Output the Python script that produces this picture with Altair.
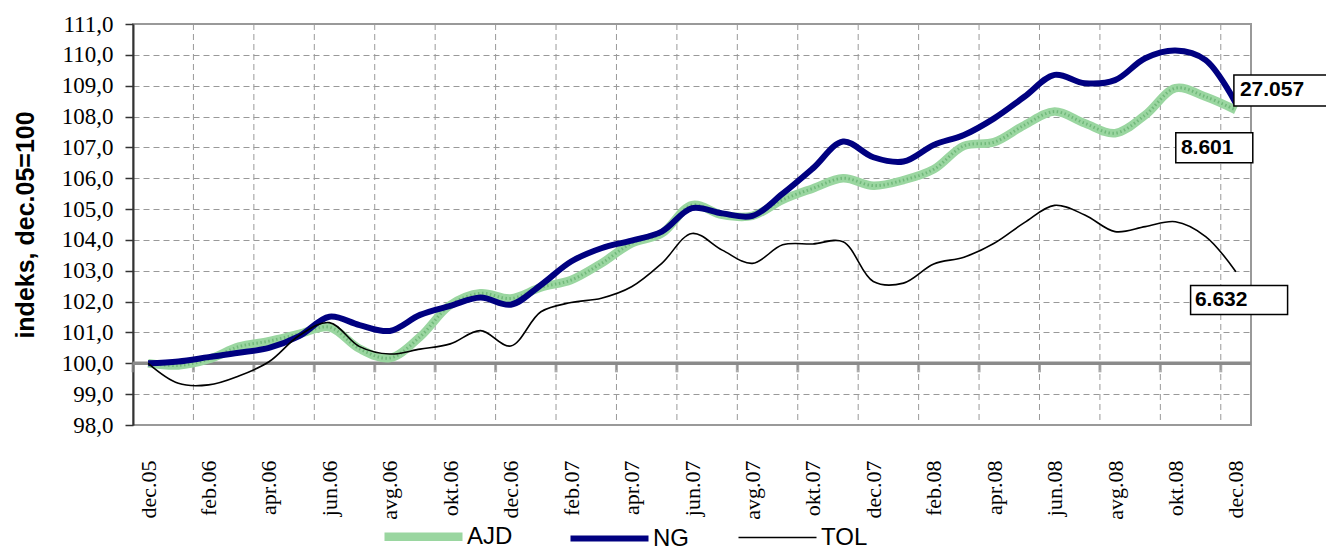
import altair as alt
import pandas as pd

MONTHS = ["dec.05",
          "jan.06", "feb.06", "mar.06", "apr.06", "maj.06", "jun.06",
          "jul.06", "avg.06", "sep.06", "okt.06", "nov.06", "dec.06",
          "jan.07", "feb.07", "mar.07", "apr.07", "maj.07", "jun.07",
          "jul.07", "avg.07", "sep.07", "okt.07", "nov.07", "dec.07",
          "jan.08", "feb.08", "mar.08", "apr.08", "maj.08", "jun.08",
          "jul.08", "avg.08", "sep.08", "okt.08", "nov.08", "dec.08"]

AJD = [100.0, 99.93, 100.13, 100.54, 100.72, 100.95, 101.17, 100.47, 100.17, 100.86,
       101.89, 102.27, 102.1, 102.46, 102.7, 103.24, 103.89, 104.21, 105.13, 104.81,
       104.78, 105.3, 105.67, 106.0, 105.76, 105.94, 106.29, 107.05, 107.17, 107.72,
       108.16, 107.78, 107.46, 108.05, 108.92, 108.64, 108.21]
NG = [100.0, 100.06, 100.2, 100.34, 100.5, 100.88, 101.51, 101.24, 101.05, 101.57,
      101.86, 102.13, 101.9, 102.54, 103.3, 103.73, 103.98, 104.27, 105.03, 104.86,
      104.78, 105.5, 106.32, 107.19, 106.68, 106.54, 107.08, 107.4, 107.94, 108.64,
      109.35, 109.08, 109.18, 109.89, 110.14, 109.83, 108.43]
TOL = [100.0, 99.35, 99.3, 99.59, 100.05, 100.9, 101.32, 100.54, 100.3, 100.46,
       100.63, 101.06, 100.56, 101.67, 101.97, 102.11, 102.48, 103.24, 104.21, 103.67,
       103.24, 103.84, 103.87, 103.94, 102.65, 102.6, 103.22, 103.44, 103.89, 104.56,
       105.12, 104.81, 104.27, 104.43, 104.59, 104.11, 102.97]

SERIES = ["AJD", "NG", "TOL"]
END_LABELS = ["8.601", "27.057", "6.632"]
Y_TICKS = list(range(98, 112))

rows = []
for s, vals in zip(SERIES, [AJD, NG, TOL]):
    for i, v in enumerate(vals):
        rows.append({"i": i, "month": MONTHS[i], "series": s, "value": v})
df = pd.DataFrame(rows)

n = len(MONTHS)
W, H = 1118, 401
xs = alt.Scale(domain=[-0.5, n - 0.5], nice=False, zero=False)
ys = alt.Scale(domain=[98, 111], nice=False, zero=False)

label_js = "[" + ",".join("'%s'" % m for m in MONTHS) + "][datum.value]"

x_axis = alt.Axis(values=list(range(0, n, 2)), labelExpr=label_js, title=None,
                  grid=False, ticks=False, domain=False, labelAngle=270,
                  labelAlign="right", labelBaseline="middle", labelPadding=35,
                  labelFont="Liberation Serif", labelFontSize=22, labelColor="black",
                  labelOverlap=False)
y_axis = alt.Axis(values=Y_TICKS,
                  labelExpr="replace(format(datum.value, '.1f'), '.', ',')",
                  title="indeks, dec.05=100", titleFont="Liberation Sans",
                  titleFontWeight="bold", titleFontSize=25, titleColor="black",
                  titleX=-108, titleY=H / 2, titleAngle=270, titleAlign="center",
                  titleBaseline="middle",
                  labelFont="Liberation Serif", labelFontSize=23, labelColor="black",
                  labelPadding=12, tickSize=8, tickColor="#333333", tickWidth=1.5,
                  domainColor="#333333", domainWidth=2,
                  grid=True, gridDash=[6, 4], gridColor="#999999", gridWidth=1)


def X(field):
    return alt.X(field, scale=xs, axis=x_axis)


def Y(field):
    return alt.Y(field, scale=ys, axis=y_axis)


leg = alt.Legend(title=None, orient="none", legendX=247, legendY=469,
                 direction="horizontal", columns=3, symbolType="stroke",
                 symbolSize=6084, labelFont="Liberation Sans", labelFontSize=24,
                 labelColor="black", labelOffset=0, columnPadding=45, padding=0,
                 labelLimit=0)
color_enc = alt.Color("series:N", scale=alt.Scale(domain=SERIES,
                      range=["#9ad6a0", "#000080", "#000000"]), legend=leg)
sw_enc = alt.StrokeWidth("series:N", scale=alt.Scale(type="ordinal", domain=SERIES,
                         range=[8.5, 6, 1.6]), legend=leg)

# vertical dashed gridlines at category boundaries
bounds = pd.DataFrame({"b": [k - 0.5 for k in range(2, n, 2)]})
vgrid = alt.Chart(bounds).mark_rule(color="#999999", strokeWidth=1, strokeDash=[6, 4]).encode(
    x=X("b:Q"))

# baseline at 100 with tick marks
base_df = pd.DataFrame({"y": [100]})
baseline = alt.Chart(base_df).mark_rule(color="#8a8a8a", strokeWidth=3.5).encode(
    y=Y("y:Q"))
tick_df = pd.DataFrame({"b": [k - 0.5 for k in range(0, n, 2)], "y": 100})
ticks = alt.Chart(tick_df).mark_tick(orient="vertical", color="#8a8a8a", thickness=3,
                                     size=10, yOffset=4).encode(
    x=X("b:Q"), y=Y("y:Q"))

ajd = alt.Chart(df[df.series == "AJD"]).mark_line(interpolate="catmull-rom").encode(
    x=X("i:Q"), y=Y("value:Q"), color=color_enc, strokeWidth=sw_enc)
ajd_dots = alt.Chart(df[df.series == "AJD"]).mark_line(
    interpolate="catmull-rom", color="#72b97b", strokeWidth=3,
    strokeDash=[1.5, 2.5]).encode(x=X("i:Q"), y=Y("value:Q"))
others = alt.Chart(df[df.series != "AJD"]).mark_line(interpolate="catmull-rom").encode(
    x=X("i:Q"), y=Y("value:Q"), color=color_enc, strokeWidth=sw_enc)

# end labels: (box dx, box dy, box w, box h, text dx)
LABEL_POS = {"AJD": (-21.6, 37.8, 77, 30, -55),
             "NG": (49, -12.8, 102, 31, 4),
             "TOL": (3.2, 28.3, 97, 29, -41)}
label_layers = []
for s, vals, lab in zip(SERIES, [AJD, NG, TOL], END_LABELS):
    bdx, bdy, bw, bh, tdx = LABEL_POS[s]
    ldf = pd.DataFrame({"i": [n - 1], "value": [vals[-1]], "label": [lab]})
    r = bh / bw
    box = alt.Chart(ldf).mark_point(
        shape="M-1,-%.4fH1V%.4fH-1Z" % (r, r), size=bw * bw, filled=False,
        fill="white", stroke="black", strokeWidth=1.5, opacity=1, fillOpacity=1,
        xOffset=bdx, yOffset=bdy).encode(x=X("i:Q"), y=Y("value:Q"))
    txt = alt.Chart(ldf).mark_text(
        align="left", baseline="middle", dx=tdx, dy=bdy, font="Liberation Sans",
        fontWeight="bold", fontSize=21, color="black").encode(
        x=X("i:Q"), y=Y("value:Q"), text="label:N")
    label_layers += [box, txt]

chart = alt.layer(vgrid, baseline, ticks, ajd, ajd_dots, others, *label_layers).properties(
    width=W, height=H,
    autosize=alt.AutoSizeParams(type="none"),
    padding={"left": 125, "top": 16, "right": 75, "bottom": 122},
).configure_view(stroke="#999999", strokeWidth=2)

chart.save("out.html", embed_options={"renderer": "svg", "actions": False})
